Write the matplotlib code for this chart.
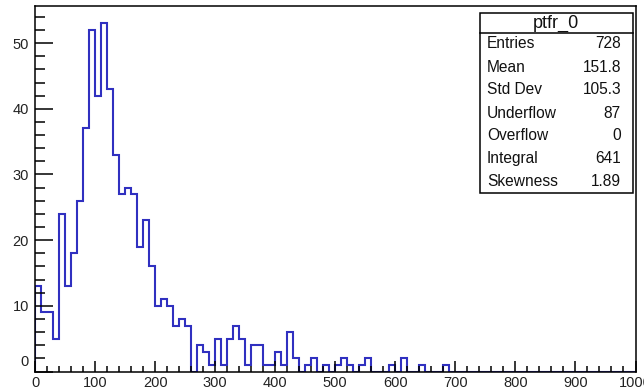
import matplotlib
matplotlib.use("Agg")
import matplotlib.pyplot as plt
import numpy as np
from matplotlib.ticker import MultipleLocator, FuncFormatter
from matplotlib.patches import Rectangle
from matplotlib.transforms import ScaledTranslation

# Histogram ptfr_0: 100 bins of width 10 over [0, 1000)
bin_edges = np.arange(0, 1001, 10)
counts = [
    13, 9, 9, 5, 24, 13, 18, 26, 37, 52,
    42, 53, 43, 33, 27, 28, 27, 19, 23, 16,
    10, 11, 10, 7, 8, 7, 0, 4, 3, 1,
    5, 1, 5, 7, 5, 1, 4, 4, 1, 1,
    3, 1, 6, 2, 0, 1, 2, 0, 1, 0,
    1, 2, 1, 0, 1, 2, 0, 0, 0, 1,
    0, 2, 0, 0, 1, 0, 0, 0, 1, 0,
    0, 0, 0, 0, 0, 0, 0, 0, 0, 0,
    0, 0, 0, 0, 0, 0, 0, 0, 0, 0,
    0, 0, 0, 0, 0, 0, 0, 0, 0, 0,
]

hist_name = "ptfr_0"
stat_names = ["Entries", "Mean", "Std Dev", "Underflow", "Overflow", "Integral", "Skewness"]
stat_values = ["728", "151.8", "105.3", "87", "0", "641", "1.89"]

W, H = 644, 389
plt.rcParams["font.family"] = ["Liberation Sans", "DejaVu Sans"]

fig = plt.figure(figsize=(W / 100, H / 100), dpi=100)
fig.patch.set_facecolor("white")


def fx(px):
    return px / W


def fy(py):
    return 1 - py / H


left, right, top, bottom = 35, 635.5, 6, 371.5
ax = fig.add_axes([fx(left), fy(bottom), fx(right) - fx(left), fy(top) - fy(bottom)])

ax.stairs(counts, bin_edges, color="#3030c0", linewidth=1.5, baseline=0)

ymax = max(counts) * 1.05
ax.set_xlim(0, 1000)
ax.set_ylim(0, ymax)

ax.xaxis.set_major_locator(MultipleLocator(100))
ax.xaxis.set_minor_locator(MultipleLocator(20))
ax.yaxis.set_major_locator(MultipleLocator(10))
ax.yaxis.set_minor_locator(MultipleLocator(2))
ax.yaxis.set_major_formatter(FuncFormatter(lambda v, p: "" if v == 0 else f"{v:.0f}"))

tick_fs = 10.5
ax.tick_params(axis="x", which="major", direction="in", length=8, width=1.1,
               labelsize=tick_fs, pad=3, colors="black", labelcolor="#222222")
ax.tick_params(axis="x", which="minor", direction="in", length=4, width=1.1)
ax.tick_params(axis="y", which="major", direction="in", length=13, width=1.1,
               labelsize=tick_fs, pad=4.5, labelcolor="#222222")
ax.tick_params(axis="y", which="minor", direction="in", length=7, width=1.1)

for s in ax.spines.values():
    s.set_linewidth(1.1)
    s.set_color("black")

# ROOT raises the y-axis zero label off the x-axis
ax.text(0, 0, "0", fontsize=tick_fs, color="#222222", ha="right", va="center",
        transform=ax.get_yaxis_transform() + ScaledTranslation(-6 / 100, 9 / 100, fig.dpi_scale_trans))

# Statistics box
bx0, bx1, by0, by1 = 480, 632.5, 12.5, 193
fig.patches.append(Rectangle((fx(bx0), fy(by1)), fx(bx1) - fx(bx0), fy(by0) - fy(by1),
                             transform=fig.transFigure, facecolor="white",
                             edgecolor="black", linewidth=1.1, zorder=5))
fig.add_artist(plt.Line2D([fx(bx0), fx(bx1)], [fy(33.3), fy(33.3)],
                          transform=fig.transFigure, color="black", linewidth=1.1, zorder=6))
fig.text(fx((bx0 + bx1) / 2), fy(23), hist_name, fontsize=13, ha="center", va="center",
         color="#111111", zorder=7)

row_y0, row_dy = 44, 23.0
for i, (name, val) in enumerate(zip(stat_names, stat_values)):
    yy = fy(row_y0 + i * row_dy)
    fig.text(fx(487), yy, name, fontsize=11.2, ha="left", va="center", color="#111111", zorder=7)
    fig.text(fx(621), yy, val, fontsize=11.2, ha="right", va="center", color="#111111", zorder=7)

fig.savefig("out.png", dpi=100, facecolor="white")
